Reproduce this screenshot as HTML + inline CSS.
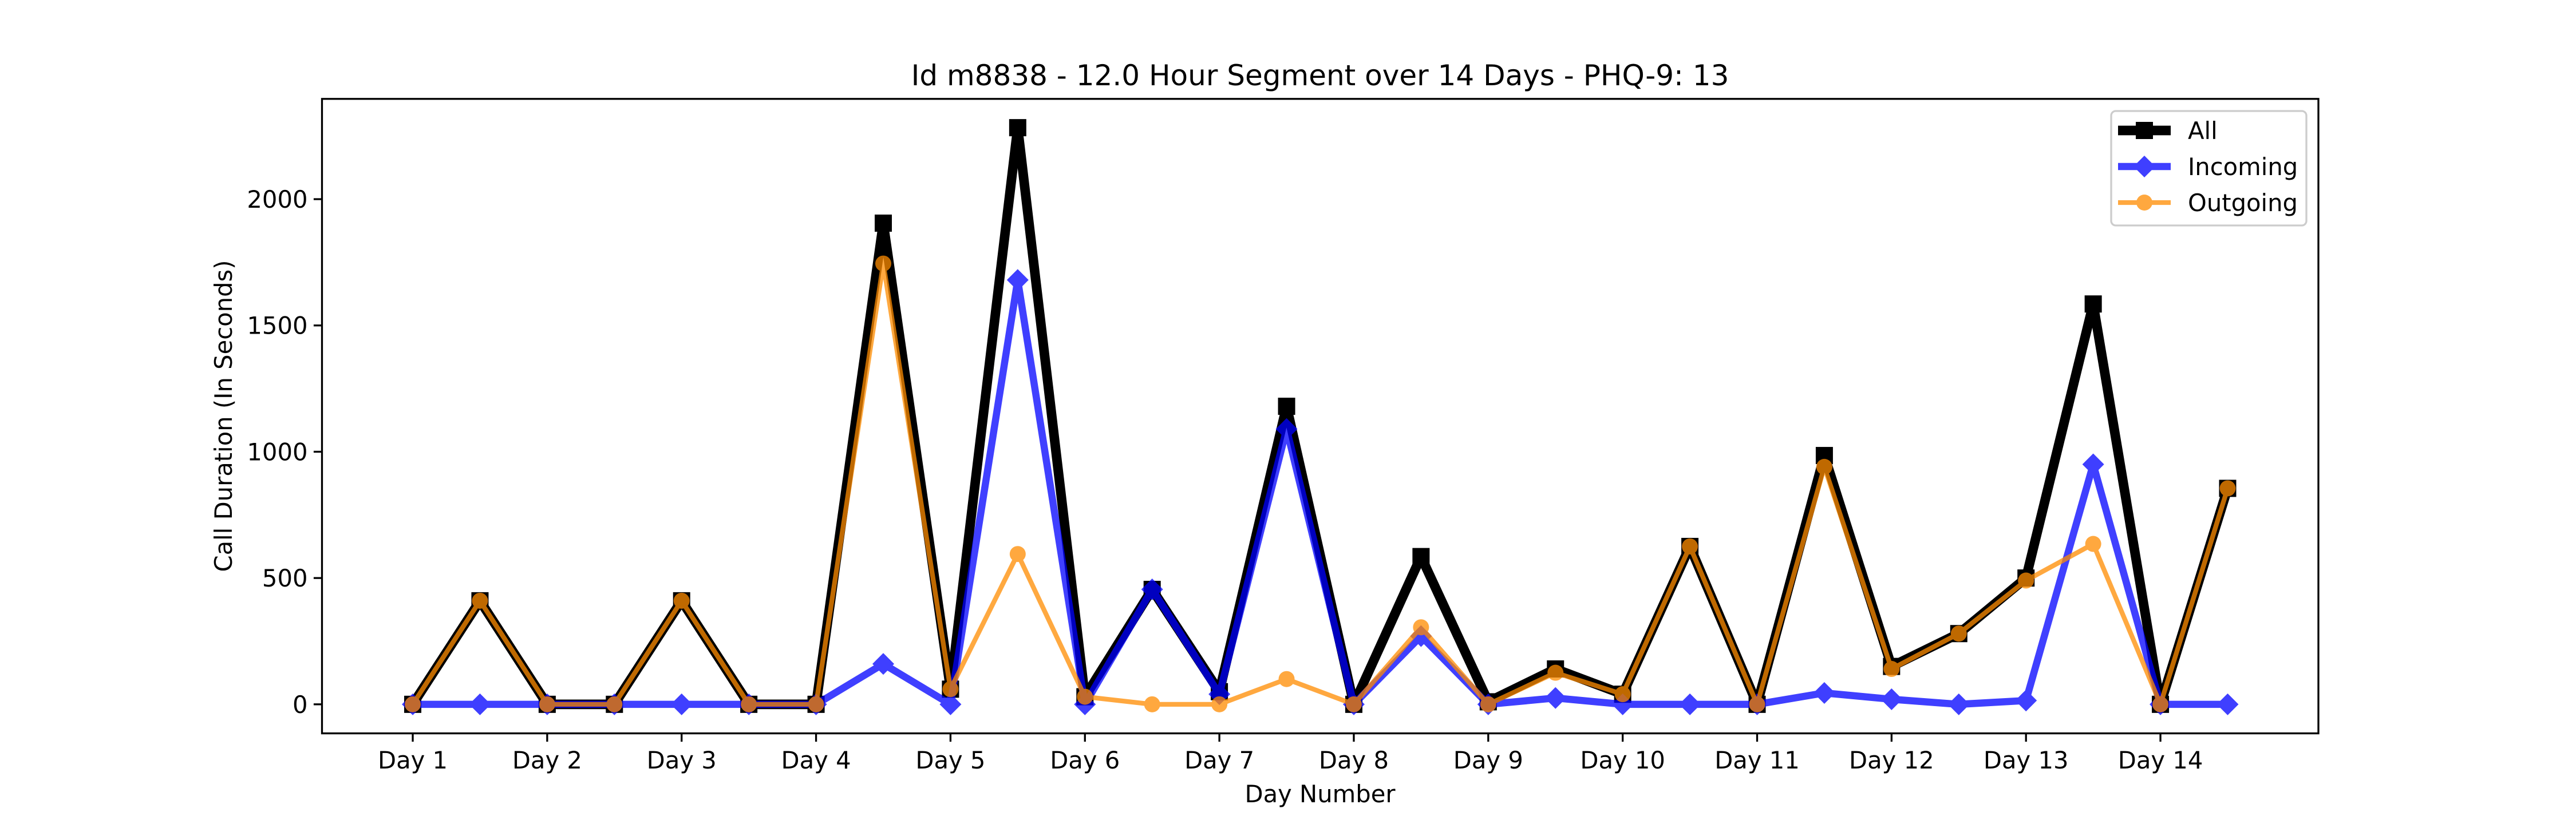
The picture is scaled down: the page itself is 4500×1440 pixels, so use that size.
<!DOCTYPE html>
<html><head><meta charset="utf-8"><style>
html,body{margin:0;padding:0;background:#fff;}
svg{display:block;}
text{font-family:"DejaVu Sans","Liberation Sans",sans-serif;fill:#000;}
</style></head><body>
<svg id="chart" width="4500" height="1440" viewBox="0 0 4500 1440" xmlns="http://www.w3.org/2000/svg">
<rect x="0" y="0" width="4500" height="1440" fill="#fff"/>
<text x="2306" y="149" font-size="50" text-anchor="middle">Id m8838 - 12.0 Hour Segment over 14 Days - PHQ-9: 13</text>
<g id="grid"></g>
<g id="series"></g>
<rect x="562.5" y="172.8" width="3487.5" height="1108.8" fill="none" stroke="#000" stroke-width="3.3"/>
<text x="2306" y="1402" font-size="41.7" text-anchor="middle">Day Number</text>
<text transform="translate(405,727) rotate(-90)" font-size="41.7" text-anchor="middle">Call Duration (In Seconds)</text>
<g>
<rect x="3688" y="194" width="341" height="200" rx="8" fill="#fff" fill-opacity="0.8" stroke="#ccc" stroke-width="3.3"/>
<g>
<line x1="3700" y1="228" x2="3792" y2="228" stroke="#000" stroke-width="16.7"/>
<rect x="3731" y="213" width="30" height="30" fill="#000"/>
<text x="3822" y="243" font-size="41.7">All</text></g>
<g opacity="0.75">
<line x1="3700" y1="291" x2="3792" y2="291" stroke="#0000ff" stroke-width="12.5"/>
<polygon points="3746,272 3765,291 3746,310 3727,291" fill="#0000ff"/>
</g>
<text x="3822" y="306" font-size="41.7">Incoming</text>
<g opacity="0.75">
<line x1="3700" y1="354" x2="3792" y2="354" stroke="#ff8c00" stroke-width="8.3"/>
<circle cx="3746" cy="354" r="14" fill="#ff8c00"/>
</g>
<text x="3822" y="369" font-size="41.7">Outgoing</text>
</g>
</svg>
<script>
const dayLabels = ["Day 1","Day 2","Day 3","Day 4","Day 5","Day 6","Day 7","Day 8","Day 9","Day 10","Day 11","Day 12","Day 13","Day 14"];
const yTicks = [0,500,1000,1500,2000];
const allValues = [0,410,0,0,410,0,0,1905,60,2283,30,455,50,1180,0,585,10,140,40,625,0,985,150,280,500,1585,0,855];
const incomingValues = [0,0,0,0,0,0,0,160,0,1680,0,455,40,1090,0,270,0,25,0,0,0,45,20,0,15,950,0,0];
const outgoingValues = [0,410,0,0,410,0,0,1745,60,595,30,0,0,100,0,305,0,125,40,625,0,940,140,280,490,635,0,855];

const NS="http://www.w3.org/2000/svg";
const X0=562.5,X1=4050,Y0=1281.6,Y1=172.8;
const n=allValues.length;
const xmin=-0.05*(n-1), xmax=(n-1)*1.05;
const ylo=-115, yhi=2397;
function xs(i){return X0+(i-xmin)/(xmax-xmin)*(X1-X0);}
function ys(v){return Y0-(v-ylo)/(yhi-ylo)*(Y0-Y1);}
function mk(tag,attrs,parent){const e=document.createElementNS(NS,tag);for(const k in attrs)e.setAttribute(k,attrs[k]);parent.appendChild(e);return e;}
const grid=document.getElementById('grid');
dayLabels.forEach((lab,d)=>{
  const x=xs(d*2);
  const t=mk('line',{x1:x,y1:Y0,x2:x,y2:Y0+14.6,stroke:'#000','stroke-width':3.3},grid);
  
  
  const tx=mk('text',{x:x,y:1343,'font-size':41.7,'text-anchor':'middle'},grid);
  tx.textContent=lab;
  
  
});
yTicks.forEach(v=>{
  const y=ys(v);
  const t=mk('line',{x1:X0-14.6,y1:y,x2:X0,y2:y,stroke:'#000','stroke-width':3.3},grid);
  
  
  const tx=mk('text',{x:X0-25,y:y+15,'font-size':41.7,'text-anchor':'end'},grid);
  tx.textContent=String(v);
  
  
});
const sg=document.getElementById('series');
function drawSeries(vals,color,lw,marker,op,name){
  const g=mk('g',{opacity:op},sg);
  
  
  const pts=vals.map((v,i)=>xs(i)+','+ys(v)).join(' ');
  const pl=mk('polyline',{points:pts,fill:'none',stroke:color,'stroke-width':lw,'stroke-linejoin':'round','stroke-linecap':'butt'},g);
  
  
  vals.forEach((v,i)=>{
    const x=xs(i),y=ys(v);let m;
    if(marker==='s'){m=mk('rect',{x:x-15,y:y-15,width:30,height:30,fill:color},g);}
    else if(marker==='d'){m=mk('polygon',{points:`${x},${y-19} ${x+19},${y} ${x},${y+19} ${x-19},${y}`,fill:color},g);}
    else {m=mk('circle',{cx:x,cy:y,r:14,fill:color},g);}
    
    
  });
}
drawSeries(allValues,'#000',16.7,'s',1,'all');
drawSeries(incomingValues,'#0000ff',12.5,'d',0.75,'incoming');
drawSeries(outgoingValues,'#ff8c00',8.3,'o',0.75,'outgoing');
</script>
</body></html>
